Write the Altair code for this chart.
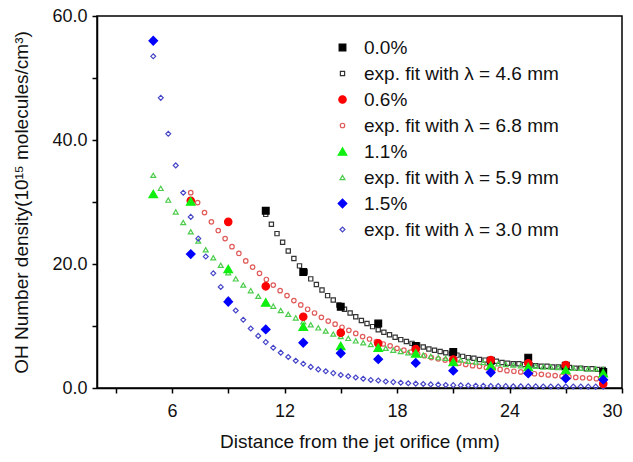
import altair as alt
import numpy as np
import pandas as pd

# ---------------- data ----------------
series_names = [
    "0.0%", "exp. fit with λ = 4.6 mm",
    "0.6%", "exp. fit with λ = 6.8 mm",
    "1.1%", "exp. fit with λ = 5.9 mm",
    "1.5%", "exp. fit with λ = 3.0 mm",
]

# measured data
x_00 = [11, 13, 15, 17, 19, 21, 23, 25, 27, 29]
y_00 = [28.6, 18.7, 13.1, 10.4, 6.8, 5.8, 4.4, 4.9, 3.6, 2.6]

x_06 = [7, 9, 11, 13, 15, 17, 19, 21, 23, 25, 27, 29]
y_06 = [30.2, 26.8, 16.4, 11.5, 8.9, 7.2, 6.3, 4.6, 4.5, 4.0, 3.7, 0.7]

x_11 = [5, 7, 9, 11, 13, 15, 17, 19, 21, 23, 25, 27, 29]
y_11 = [31.3, 30.1, 19.2, 13.8, 9.9, 6.8, 6.5, 5.6, 4.2, 3.6, 3.4, 2.9, 2.4]

x_15 = [5, 7, 9, 11, 13, 15, 17, 19, 21, 23, 25, 27, 29]
y_15 = [56.0, 21.6, 13.9, 9.45, 7.3, 5.6, 4.65, 4.05, 2.8, 2.5, 2.35, 1.55, 1.35]

# fitted curves (sample points as plotted; 61 evenly spaced positions each)
fit_00_range = (11, 29)
fit_00 = [28.0, 26.4, 24.9, 23.5, 22.1, 20.9, 19.7, 18.7, 17.6, 16.7, 15.8,
          14.9, 14.2, 13.4, 12.7, 12.1, 11.5, 10.9, 10.4, 9.9, 9.4,
          9.0, 8.6, 8.2, 7.8, 7.5, 7.2, 6.9, 6.6, 6.3, 6.1,
          5.9, 5.7, 5.5, 5.3, 5.1, 4.9, 4.8, 4.6, 4.5, 4.4,
          4.3, 4.1, 4.0, 3.9, 3.9, 3.8, 3.7, 3.6, 3.5, 3.5,
          3.4, 3.4, 3.3, 3.3, 3.2, 3.2, 3.1, 3.1, 3.0, 3.0]

fit_06_range = (7, 29)
fit_06 = [31.5, 29.9, 28.3, 26.8, 25.4, 24.1, 22.8, 21.7, 20.5, 19.5, 18.5,
          17.5, 16.6, 15.7, 14.9, 14.1, 13.4, 12.7, 12.1, 11.4, 10.8,
          10.3, 9.8, 9.3, 8.8, 8.3, 7.9, 7.5, 7.1, 6.8, 6.4,
          6.1, 5.8, 5.5, 5.2, 4.9, 4.7, 4.5, 4.2, 4.0, 3.8,
          3.6, 3.5, 3.3, 3.1, 3.0, 2.8, 2.7, 2.6, 2.4, 2.3,
          2.2, 2.1, 2.0, 1.9, 1.8, 1.7, 1.65, 1.6, 1.5, 1.4]

fit_11_range = (5, 29)
fit_11 = [34.3, 32.2, 30.3, 28.4, 26.7, 25.2, 23.7, 22.3, 21.0, 19.8, 18.6,
          17.6, 16.6, 15.7, 14.8, 14.0, 13.2, 12.5, 11.9, 11.3, 10.7,
          10.2, 9.7, 9.2, 8.7, 8.3, 8.0, 7.6, 7.3, 7.0, 6.7,
          6.4, 6.1, 5.9, 5.7, 5.5, 5.3, 5.1, 4.9, 4.8, 4.6,
          4.5, 4.3, 4.2, 4.1, 4.0, 3.9, 3.8, 3.7, 3.6, 3.6,
          3.5, 3.4, 3.4, 3.3, 3.3, 3.2, 3.2, 3.1, 3.1, 3.0]

fit_15_range = (5, 29)
fit_15 = [53.5, 46.8, 41.0, 35.9, 31.5, 27.6, 24.1, 21.2, 18.5, 16.3, 14.3,
          12.5, 11.0, 9.6, 8.4, 7.4, 6.5, 5.7, 5.0, 4.4, 3.9,
          3.4, 3.0, 2.7, 2.4, 2.1, 1.9, 1.7, 1.5, 1.3, 1.2,
          1.05, 0.95, 0.85, 0.77, 0.70, 0.64, 0.58, 0.54, 0.49, 0.46,
          0.43, 0.40, 0.37, 0.35, 0.33, 0.32, 0.30, 0.29, 0.28, 0.27,
          0.26, 0.25, 0.25, 0.24, 0.24, 0.23, 0.23, 0.22, 0.22, 0.22]

x_ticks = [3, 6, 9, 12, 15, 18, 21, 24, 27, 30]
y_ticks = [0, 10, 20, 30, 40, 50, 60]

# ---------------- build table ----------------
rows = []
fits = [(series_names[1], fit_00_range, fit_00),
        (series_names[3], fit_06_range, fit_06),
        (series_names[5], fit_11_range, fit_11),
        (series_names[7], fit_15_range, fit_15)]
for name, (a, b), ys in fits:
    xs = np.linspace(a, b, len(ys))
    for xv, yv in zip(xs, ys):
        rows.append({"x": float(xv), "y": yv, "series": name})
meas = [(series_names[0], x_00, y_00), (series_names[2], x_06, y_06),
        (series_names[4], x_11, y_11), (series_names[6], x_15, y_15)]
for name, xs, ys in meas:
    for xv, yv in zip(xs, ys):
        rows.append({"x": xv, "y": yv, "series": name})
df = pd.DataFrame(rows)

shapes = ["square", "square", "circle", "circle",
          "triangle-up", "triangle-up", "diamond", "diamond"]
strokes = ["#000000", "#333333", "#ff0000", "#e05a5a",
           "#10f010", "#4ccc4c", "#0000ff", "#4646c8"]
fills = ["#000000", "transparent", "#ff0000", "transparent",
         "#10f010", "transparent", "#0000ff", "transparent"]
sizes = [45, 18, 55, 20, 75, 24, 75, 24]

leg = alt.Legend(
    title=None, orient="none", legendX=236, legendY=22,
    labelFontSize=19, labelFont="Liberation Sans", labelColor="#111111",
    labelLimit=0, rowPadding=6, labelOffset=12, padding=0, symbolStrokeWidth=1.2,
)

chart = alt.Chart(df).mark_point(strokeWidth=1.2, opacity=1).encode(
    x=alt.X("x:Q", scale=alt.Scale(domain=[2, 30], nice=False, zero=False),
            axis=alt.Axis(values=x_ticks, title="Distance from the jet orifice (mm)",
                          labelExpr="datum.value % 6 == 0 ? datum.value : ''",
                          grid=False)),
    y=alt.Y("y:Q", scale=alt.Scale(domain=[0, 60], nice=False),
            axis=alt.Axis(values=y_ticks, title="OH Number density(10¹⁵ molecules/cm³)",
                          labelExpr="datum.value % 20 == 0 ? format(datum.value, '.1f') : ''",
                          grid=False)),
    shape=alt.Shape("series:N", scale=alt.Scale(domain=series_names, range=shapes), legend=leg),
    stroke=alt.Stroke("series:N", scale=alt.Scale(domain=series_names, range=strokes), legend=leg),
    fill=alt.Fill("series:N", scale=alt.Scale(domain=series_names, range=fills), legend=leg),
    size=alt.Size("series:N", scale=alt.Scale(type="ordinal", domain=series_names, range=sizes), legend=leg),
).properties(
    width=525, height=372,
    padding={"left": 97, "top": 16, "right": 11, "bottom": 74},
    autosize=alt.AutoSizeParams(type="none"),
    background="white",
).configure_view(
    stroke="#000000", strokeWidth=1.5
).configure_axis(
    domainColor="#000000", domainWidth=1.5, tickColor="#000000", tickWidth=1.5,
    tickSize=5, labelFont="Liberation Sans", labelFontSize=18, labelColor="#111111",
    titleFont="Liberation Sans", titleFontSize=19, titleFontWeight="normal",
    titleColor="#111111", labelPadding=5,
).configure_axisX(titlePadding=12, labelPadding=9).configure_axisY(titlePadding=20)

chart.save("out.html", embed_options={"renderer": "svg", "actions": False})
